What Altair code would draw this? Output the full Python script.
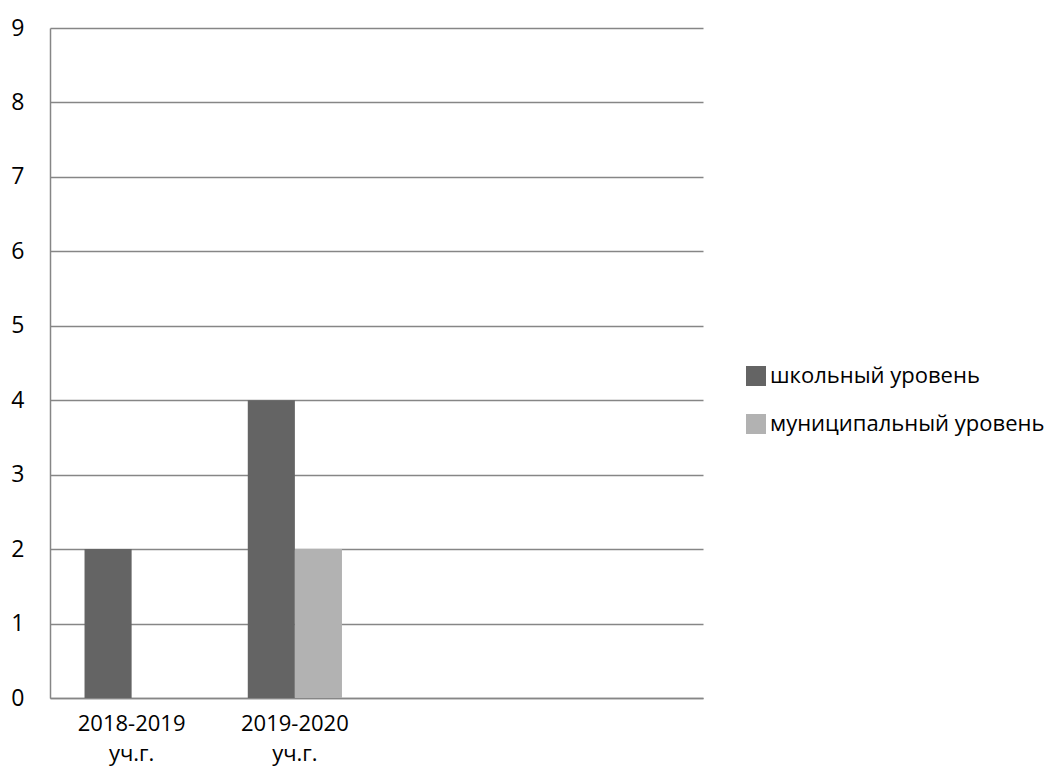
import altair as alt
import pandas as pd

categories = ["2018-2019\nуч.г.", "2019-2020\nуч.г.", "", " "]
series = ["школьный уровень", "муниципальный уровень"]
school = [2, 4]
municipal = [0, 2]
colors = ["#646464", "#b2b2b2"]

rows = []
for i, v in enumerate(school):
    rows.append({"cat": categories[i], "series": series[0], "value": v})
for i, v in enumerate(municipal):
    rows.append({"cat": categories[i], "series": series[1], "value": v})
df = pd.DataFrame(rows)

FONT = "Open Sans"

chart = alt.Chart(df).mark_bar().encode(
    x=alt.X("cat:N", sort=categories,
            scale=alt.Scale(domain=categories, paddingInner=0.423, paddingOuter=0.2115),
            axis=alt.Axis(title=None, labelAngle=0, ticks=False, labelExpr="split(datum.label, '\\n')",
                          labelFontSize=22, labelFont=FONT, labelColor="#000000",
                          labelPadding=15, labelLineHeight=30, domainColor="#868686",
                          domainWidth=1.5, labelBaseline="top")),
    xOffset=alt.XOffset("series:N", sort=series, scale=alt.Scale(paddingInner=0, paddingOuter=0)),
    y=alt.Y("value:Q", scale=alt.Scale(domain=[0, 9], nice=False),
            axis=alt.Axis(title=None, values=list(range(10)), ticks=False, tickCount=10,
                          labelFontSize=23, labelFont=FONT, labelColor="#000000",
                          labelPadding=26, gridColor="#868686", gridWidth=1.5,
                          domainColor="#868686", domainWidth=1.5)),
    color=alt.Color("series:N", sort=series,
                    scale=alt.Scale(domain=series, range=colors),
                    legend=alt.Legend(title=None, orient="none", legendX=695, legendY=337,
                                      symbolType="square", symbolSize=400, symbolStrokeWidth=0,
                                      labelFontSize=22, labelFont=FONT, labelColor="#000000",
                                      labelOffset=3, rowPadding=26, labelLimit=400)),
).properties(
    width=653, height=670,
    autosize=alt.AutoSizeParams(type="none"),
    padding={"left": 42, "top": 20, "right": 343, "bottom": 71},
).configure_view(stroke=None).configure_axis(labelFont=FONT)

chart.save("out.html", embed_options={"renderer": "svg", "actions": False})
